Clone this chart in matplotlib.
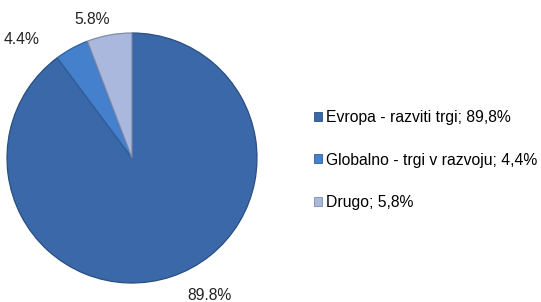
import numpy as np
import matplotlib
matplotlib.use("Agg")
import matplotlib.pyplot as plt
from matplotlib.patches import Patch

plt.rcParams['font.family'] = ['Liberation Sans', 'DejaVu Sans']

#%% data
names  = ['Evropa - razviti trgi', 'Globalno - trgi v razvoju', 'Drugo']
shares = [89.8, 4.4, 5.8]
colors = ['#3a68a8', '#4580cc', '#a9b8dc']
edges  = ['#2a4f80', '#2f5f9c', '#7d8cab']

# label offsets (x, y) in pie units, Excel-ish placement
lab_pos = [(0.62, -1.10), (-0.88, 0.945), (-0.32, 1.105)]

#%% figure
W, H = 541, 302
fig = plt.figure(figsize=(W/100, H/100), dpi=100)
cx, cy, r = 132, 158, 125
ax = fig.add_axes([(cx - r)/W, (H - cy - r)/H, 2*r/W, 2*r/H])

wedges, _ = ax.pie(shares, colors=colors, startangle=90, counterclock=False,
                   radius=1.0, wedgeprops=dict(linewidth=0.9))
for w, e in zip(wedges, edges):
    w.set_edgecolor(e)

for (x, y), v in zip(lab_pos, shares):
    ax.text(x, y, '%.1f%%' % v, ha='center', va='center', fontsize=11.3,
            color='#222222')

ax.set_xlim(-1.0, 1.0)
ax.set_ylim(-1.0, 1.0)
ax.set_aspect('equal')
ax.set_axis_off()

handles = [Patch(facecolor=c, edgecolor=e, linewidth=0.6) for c, e in zip(colors, edges)]
labels = ['%s; %s%%' % (n, ('%.1f' % v).replace('.', ',')) for n, v in zip(names, shares)]
fig.legend(handles, labels, loc='center left', bbox_to_anchor=(314/W, 1 - 160/H),
           frameon=False, fontsize=11.3, handlelength=0.5, handleheight=0.5,
           handletextpad=0.25, labelspacing=1.75, borderpad=0, borderaxespad=0)

fig.savefig('out.png', dpi=100)
